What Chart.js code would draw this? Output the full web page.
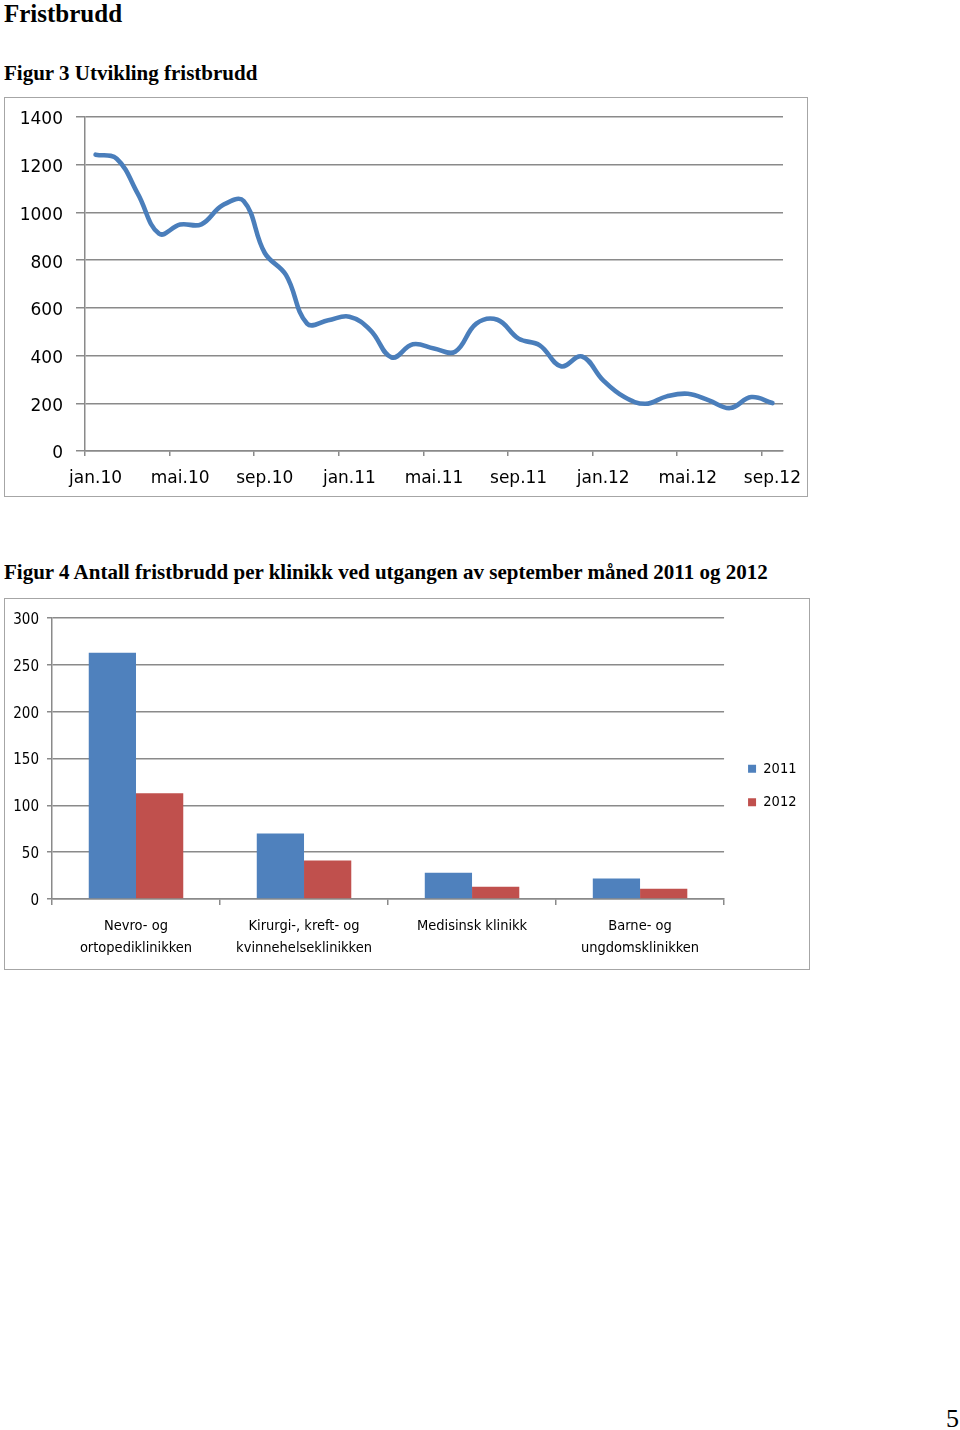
<!DOCTYPE html>
<html><head><meta charset="utf-8">
<script src="https://cdn.jsdelivr.net/npm/chart.js@4.4.0/dist/chart.umd.min.js"></script>
<style>
body{margin:0;background:#fff;width:960px;height:1430px;position:relative;overflow:hidden}
.t{position:absolute;font-family:"Liberation Serif","Times New Roman",serif;font-weight:bold;line-height:1;white-space:nowrap;color:#000}
.box{position:absolute;border:1px solid #a6a6a6;background:#fff}
canvas{display:block}
</style></head><body>
<div class="t" style="left:4px;top:1px;font-size:25px">Fristbrudd</div>
<div class="t" style="left:4px;top:63px;font-size:21px">Figur 3 Utvikling fristbrudd</div>
<div class="box" style="left:4px;top:97px;width:802px;height:398px"><canvas id="c1" width="802" height="398"></canvas></div>
<div class="t" style="left:4px;top:562px;font-size:21px">Figur 4 Antall fristbrudd per klinikk ved utgangen av september måned 2011 og 2012</div>
<div class="box" style="left:4px;top:598px;width:804px;height:370px"><canvas id="c2" width="804" height="370"></canvas></div>
<div class="t" style="left:946px;top:1406px;font-size:26px;font-weight:normal">5</div>
<script>
// ---- Figur 3 data ----
const months = ['jan.10','feb.10','mar.10','apr.10','mai.10','jun.10','jul.10','aug.10','sep.10','okt.10','nov.10','des.10',
  'jan.11','feb.11','mar.11','apr.11','mai.11','jun.11','jul.11','aug.11','sep.11','okt.11','nov.11','des.11',
  'jan.12','feb.12','mar.12','apr.12','mai.12','jun.12','jul.12','aug.12','sep.12'];
const fristbrudd = [1242,1225,1078,911,949,950,1030,1048,830,738,534,548,
  563,506,392,447,430,416,534,550,471,443,355,396,
  296,226,198,229,240,212,180,226,201];
const lineYTicks = [0,200,400,600,800,1000,1200,1400];

// ---- Figur 4 data ----
const klinikker = [['Nevro- og','ortopediklinikken'],['Kirurgi-, kreft- og','kvinnehelseklinikken'],['Medisinsk klinikk'],['Barne- og','ungdomsklinikken']];
const serie2011 = [263,70,28,22];
const serie2012 = [113,41,13,11];
const barYTicks = [0,50,100,150,200,250,300];

const GRID = '#8a8a8a';
const noPad = s => { s.paddingLeft = 0; s.paddingRight = 0; s.paddingTop = 0; s.paddingBottom = 0; };

new Chart(document.getElementById('c1'), {
  type: 'line',
  data: { labels: months, datasets: [{ data: fristbrudd, borderColor: '#4a7ebb', borderWidth: 4.6,
    pointRadius: 0, tension: 0.4, borderCapStyle: 'round', borderJoinStyle: 'round', fill: false }] },
  options: {
    responsive: false, animation: false, devicePixelRatio: 1,
    layout: { padding: { top: 19, right: 24, left: 0, bottom: 0 } },
    plugins: { legend: { display: false }, tooltip: { enabled: false } },
    scales: {
      x: {
        offset: true,
        afterFit: s => { s.height = 45; noPad(s); },
        grid: { offset: true, drawOnChartArea: false, drawTicks: true, tickLength: 5,
          color: c => (c.index % 4 === 0 ? GRID : 'rgba(0,0,0,0)'), lineWidth: 1.5 },
        border: { display: true, color: GRID, width: 1.5 },
        ticks: { autoSkip: false, maxRotation: 0, padding: 12, color: '#000',
          font: { family: '"DejaVu Sans"', size: 17 },
          callback: function (v, i) { return i % 4 === 0 ? months[i] : ''; } }
      },
      y: {
        min: 0, max: 1400,
        afterFit: s => { s.width = 80; noPad(s); },
        afterBuildTicks: s => { s.ticks = lineYTicks.map(v => ({ value: v })); },
        grid: { color: GRID, lineWidth: 1.5, tickLength: 9 },
        border: { display: true, color: GRID, width: 1.5 },
        ticks: { padding: 13, labelOffset: 3, color: '#000', font: { family: '"DejaVu Sans"', size: 17 },
          callback: v => String(v) }
      }
    }
  }
});

new Chart(document.getElementById('c2'), {
  type: 'bar',
  data: { labels: klinikker, datasets: [
    { label: '2011', data: serie2011, backgroundColor: '#4f81bd', categoryPercentage: 0.5625, barPercentage: 1.0 },
    { label: '2012', data: serie2012, backgroundColor: '#c0504d', categoryPercentage: 0.5625, barPercentage: 1.0 }
  ] },
  options: {
    responsive: false, animation: false, devicePixelRatio: 1,
    layout: { padding: { top: 19, right: 7.5, left: 0, bottom: 0 } },
    plugins: {
      tooltip: { enabled: false },
      legend: { position: 'right', align: 'center',
        labels: { boxWidth: 8, boxHeight: 8, padding: 19, color: '#000',
          font: { family: '"DejaVu Sans Condensed","Liberation Sans Narrow",sans-serif', size: 14.5 } } }
    },
    scales: {
      x: {
        afterFit: s => { s.height = 70; noPad(s); },
        grid: { offset: true, drawOnChartArea: false, tickLength: 6, color: GRID, lineWidth: 1.5 },
        border: { display: true, color: GRID, width: 1.5 },
        ticks: { padding: 10, color: '#000', maxRotation: 0, autoSkip: false,
          font: { family: '"DejaVu Sans Condensed","Liberation Sans Narrow",sans-serif', size: 14.5, lineHeight: 1.52 } }
      },
      y: {
        min: 0, max: 300,
        afterFit: s => { s.width = 47; noPad(s); },
        afterBuildTicks: s => { s.ticks = barYTicks.map(v => ({ value: v })); },
        grid: { color: GRID, lineWidth: 1.5, tickLength: 5 },
        border: { display: true, color: GRID, width: 1.5 },
        ticks: { padding: 8, labelOffset: 2, color: '#000',
          font: { family: '"DejaVu Sans Condensed","Liberation Sans Narrow",sans-serif', size: 15 } }
      }
    }
  },
  plugins: [{
    id: 'legendShift',
    afterLayout(chart) {
      const lg = chart.legend;
      if (lg) { lg.left += 5; lg.right += 5; lg.top -= 8; lg.bottom -= 8; }
    }
  }]
});
</script>
</body></html>
